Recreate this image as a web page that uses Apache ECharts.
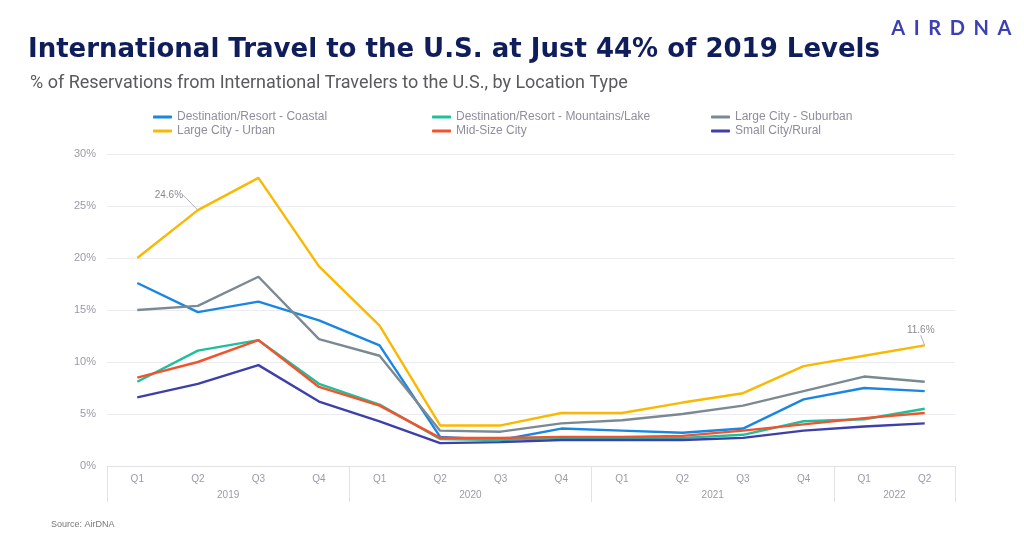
<!DOCTYPE html>
<html>
<head>
    <meta charset="utf-8">
    <title>International Travel</title>
    <script src="https://cdn.jsdelivr.net/npm/echarts@6/dist/echarts.min.js"></script>
    <style type="text/css">
    html, body { margin:0; padding:0; background:#fff; }
    #main { width:1024px; height:552px; }
    </style>
</head>
<body>
    <div id="main"></div>
    <script type="text/javascript">
    // quarters along the bottom, grouped by year
    var quarters = ['Q1','Q2','Q3','Q4','Q1','Q2','Q3','Q4','Q1','Q2','Q3','Q4','Q1','Q2'];
    var years = ['2019','2020','2021','2022'];
    var quartersPerYear = [4, 4, 4, 2];

    // % of reservations from international travelers
    var coastal   = [17.6, 14.8, 15.8, 14.0, 11.6, 2.8, 2.5, 3.6, 3.4, 3.2, 3.6, 6.4, 7.5, 7.2];
    var mountains = [8.1, 11.1, 12.1, 7.9, 5.9, 2.6, 2.5, 2.7, 2.7, 2.7, 3.0, 4.3, 4.5, 5.5];
    var suburban  = [15.0, 15.4, 18.2, 12.2, 10.6, 3.4, 3.3, 4.1, 4.4, 5.0, 5.8, 7.2, 8.6, 8.1];
    var urban     = [20.0, 24.6, 27.7, 19.2, 13.5, 3.9, 3.9, 5.1, 5.1, 6.1, 7.0, 9.6, 10.6, 11.6];
    var midSize   = [8.5, 10.0, 12.1, 7.6, 5.8, 2.7, 2.7, 2.8, 2.8, 2.9, 3.4, 4.0, 4.6, 5.1];
    var rural     = [6.6, 7.9, 9.7, 6.2, 4.3, 2.2, 2.3, 2.5, 2.5, 2.5, 2.7, 3.4, 3.8, 4.1];
    var urbanLabelled = [1, 13];
    var logo = 'AIRDNA';

    var yearBounds = [0], yearCenters = [];
    quartersPerYear.forEach(function (n) {
        var start = yearBounds[yearBounds.length - 1];
        yearCenters.push(start + n / 2);
        yearBounds.push(start + n);
    });

    var myChart = echarts.init(document.getElementById('main'));

    function line(name, values, color) {
        return {
            name: name,
            type: 'line',
            data: values,
            showSymbol: false,
            symbol: 'none',
            lineStyle: { width: 2.4, color: color },
            itemStyle: { color: color }
        };
    }

    // only the two annotated points get a (tiny) symbol so their label shows
    var urbanSeries = line('Large City - Urban', urban.map(function (v, i) {
        if (urbanLabelled.indexOf(i) < 0) return { value: v, symbolSize: 0, label: { show: false } };
        return { value: v, label: { show: true } };
    }), '#fbb800');
    urbanSeries.showSymbol = true;
    urbanSeries.symbol = 'circle';
    urbanSeries.symbolSize = 0.1;
    urbanSeries.label = {
        show: false, position: 'top', color: '#8a8a96', fontSize: 10,
        fontFamily: 'Liberation Sans',
        formatter: function (p) { return p.value.toFixed(1) + '%'; }
    };
    urbanSeries.labelLine = { show: true, lineStyle: { color: '#b0b0b8', width: 1 } };
    urbanSeries.labelLayout = function (p) {
        if (p.dataIndex === 1) return { dx: -29, dy: -5 };
        return { dx: -4, dy: -5 };
    };

    var legendBase = {
        orient: 'vertical',
        top: 111,
        padding: 0,
        itemGap: 2,
        itemWidth: 19,
        itemHeight: 3,
        icon: 'roundRect',
        textStyle: { color: '#8e8e9c', fontSize: 12, fontFamily: 'Liberation Sans' }
    };

    var logoText = logo.split('').map(function (c) { return '{l|' + c + '}'; }).join('');

    myChart.setOption({
        backgroundColor: '#fff',
        animation: false,
        title: [{
            text: 'International Travel to the U.S. at Just 44% of 2019 Levels',
            left: 23, top: 32,
            textStyle: { color: '#0f1e5a', fontSize: 26, fontWeight: 'bold', fontFamily: 'DejaVu Sans' }
        }, {
            text: '% of Reservations from International Travelers to the U.S., by Location Type',
            left: 25, top: 69,
            textStyle: { color: '#5a5a5e', fontSize: 18, fontWeight: 'normal', fontFamily: 'Roboto' }
        }, {
            text: logoText,
            left: 882, top: 14,
            textStyle: {
                rich: { l: { color: '#3b40b3', fontSize: 20, fontWeight: 'bold', fontFamily: 'Lato', padding: [0, 4.3] } }
            }
        }, {
            text: 'Source: AirDNA',
            left: 46, top: 515,
            textStyle: { color: '#777', fontSize: 9, fontWeight: 'normal', fontFamily: 'Liberation Sans' }
        }],
        legend: [
            Object.assign({ left: 153, data: ['Destination/Resort - Coastal', 'Large City - Urban'] }, legendBase),
            Object.assign({ left: 432, data: ['Destination/Resort - Mountains/Lake', 'Mid-Size City'] }, legendBase),
            Object.assign({ left: 711, data: ['Large City - Suburban', 'Small City/Rural'] }, legendBase)
        ],
        grid: { left: 107, right: 69, top: 154, bottom: 86 },
        xAxis: [{
            type: 'category',
            data: quarters,
            boundaryGap: true,
            axisLine: { lineStyle: { color: '#e2e2e6' } },
            axisTick: { show: false },
            axisLabel: { color: '#9a9aa6', fontSize: 10, margin: 8, fontFamily: 'Liberation Sans' }
        }, {
            type: 'value',
            min: 0,
            max: quarters.length,
            position: 'bottom',
            axisLine: { show: false },
            splitLine: { show: false },
            axisTick: { show: true, customValues: yearBounds, length: 36, lineStyle: { color: '#e2e2e6' } },
            axisLabel: {
                customValues: yearCenters, margin: 24, color: '#9a9aa6', fontSize: 10,
                fontFamily: 'Liberation Sans',
                formatter: function (v) { return years[yearCenters.indexOf(v)]; }
            }
        }],
        yAxis: {
            type: 'value',
            min: 0,
            max: 30,
            interval: 5,
            axisLine: { show: false },
            axisTick: { show: false },
            axisLabel: { formatter: '{value}%', color: '#9a9aa6', fontSize: 11, margin: 11, fontFamily: 'Liberation Sans' },
            splitLine: { lineStyle: { color: '#ececf0' } }
        },
        series: [
            line('Destination/Resort - Coastal', coastal, '#1a86e4'),
            line('Destination/Resort - Mountains/Lake', mountains, '#1fbf9b'),
            line('Large City - Suburban', suburban, '#7b8a92'),
            urbanSeries,
            line('Mid-Size City', midSize, '#f4522c'),
            line('Small City/Rural', rural, '#3d40a8')
        ]
    });
    </script>
</body>
</html>
